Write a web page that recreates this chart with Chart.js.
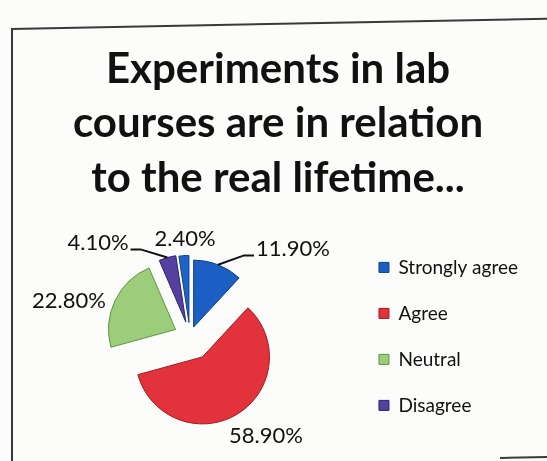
<!DOCTYPE html>
<html>
<head>
  <meta charset="utf-8" />
  <title>Experiments in lab courses</title>
  <style>
    body { margin: 0; background: #fcfcfb; }
    #wrap { position: relative; width: 547px; height: 461px; overflow: hidden; }
    .edge { position: absolute; background: #3a3a3a; }
    #stage { position: absolute; left: 0; top: 0; }
  </style>
</head>
<body>
  <div id="wrap">
    <div class="edge" style="left:11px; top:28px; width:2px; height:440px;"></div>
    <div class="edge" style="left:11px; top:28px; width:560px; height:2px; transform:rotate(-1.1deg); transform-origin:0 0;"></div>
    <div class="edge" style="left:500px; top:457px; width:60px; height:2px; transform:rotate(-1.1deg); transform-origin:0 0;"></div>
    <canvas id="stage" width="547" height="461"></canvas>
  </div>

  <script src="https://cdn.jsdelivr.net/npm/chart.js@4.4.1/dist/chart.umd.min.js"></script>
  <script>
    // 回答の割合
    const labels = ['Strongly agree', 'Agree', 'Neutral', 'Disagree', 'Strongly disagree'];
    const values = [11.9, 58.9, 22.8, 4.1, 2.4];
    const valueText = ['11.90%', '58.90%', '22.80%', '4.10%', '2.40%'];

    const colors = ['#1c5fc4', '#e2323b', '#9ccd7b', '#553f9f', '#1f63c6'];
    const edges = ['#123f88', '#a01a22', '#5c9642', '#2d2270', '#123f88'];
    const explode = [10, 24, 16, 15, 14];

    // 切り離し (半径は変えずに中心だけずらす)
    const explodePlugin = {
      id: 'explode',
      afterDatasetsUpdate(chart) {
        chart.getDatasetMeta(0).data.forEach((arc, i) => {
          const mid = (arc.startAngle + arc.endAngle) / 2;
          arc.x += Math.cos(mid) * explode[i];
          arc.y += Math.sin(mid) * explode[i];
        });
      }
    };

    // パーセント表示と引き出し線
    const labelPlugin = {
      id: 'pctLabels',
      afterDatasetsDraw(chart) {
        const ctx = chart.ctx;
        const meta = chart.getDatasetMeta(0);
        const cx = (chart.chartArea.left + chart.chartArea.right) / 2;
        const cy = (chart.chartArea.top + chart.chartArea.bottom) / 2;
        const shift = [[103, -87], [76, 100], [-121, -35], [-92, -93], [-5, -97]];
        ctx.save();
        ctx.font = '22px Lato';
        ctx.fillStyle = '#111';
        ctx.textAlign = 'center';
        ctx.textBaseline = 'middle';
        meta.data.forEach((arc, i) => {
          ctx.fillText(valueText[i], cx + shift[i][0], cy + shift[i][1]);
        });
        ctx.strokeStyle = '#111';
        ctx.lineWidth = 2;
        [[0, -1], [3, 1]].forEach(([i, side]) => {
          const arc = meta.data[i];
          const mid = (arc.startAngle + arc.endAngle) / 2;
          const ex = arc.x + Math.cos(mid) * arc.outerRadius;
          const ey = arc.y + Math.sin(mid) * arc.outerRadius;
          const w = ctx.measureText(valueText[i]).width / 2;
          const sx = cx + shift[i][0] + side * (w + 2), sy = cy + shift[i][1] + 6;
          ctx.beginPath();
          ctx.moveTo(sx, sy);
          ctx.lineTo(sx + side * 10, sy);
          ctx.lineTo(ex, ey);
          ctx.stroke();
        });
        ctx.restore();
      }
    };

    new Chart(document.getElementById('stage'), {
      type: 'pie',
      data: {
        labels: labels,
        datasets: [{
          data: values,
          backgroundColor: colors,
          borderColor: edges,
          borderWidth: 1
        }]
      },
      options: {
        responsive: false,
        animation: false,
        radius: 67,
        layout: { padding: { left: 28, right: 19, bottom: 0 } },
        plugins: {
          title: {
            display: true,
            text: ['Experiments in lab', 'courses are in relation', 'to the real lifetime...'],
            color: '#111',
            font: { family: 'Lato', size: 42, weight: 'bold', lineHeight: 1.3 },
            padding: { top: 42, bottom: 6 }
          },
          legend: {
            position: 'right',
            fullSize: false,
            labels: {
              color: '#111',
              font: { family: 'Lato', size: 19 },
              boxWidth: 10,
              boxHeight: 10,
              padding: 27,
              filter: item => item.index < 4
            }
          },
          tooltip: { enabled: false }
        }
      },
      plugins: [explodePlugin, labelPlugin]
    });
  </script>
</body>
</html>
